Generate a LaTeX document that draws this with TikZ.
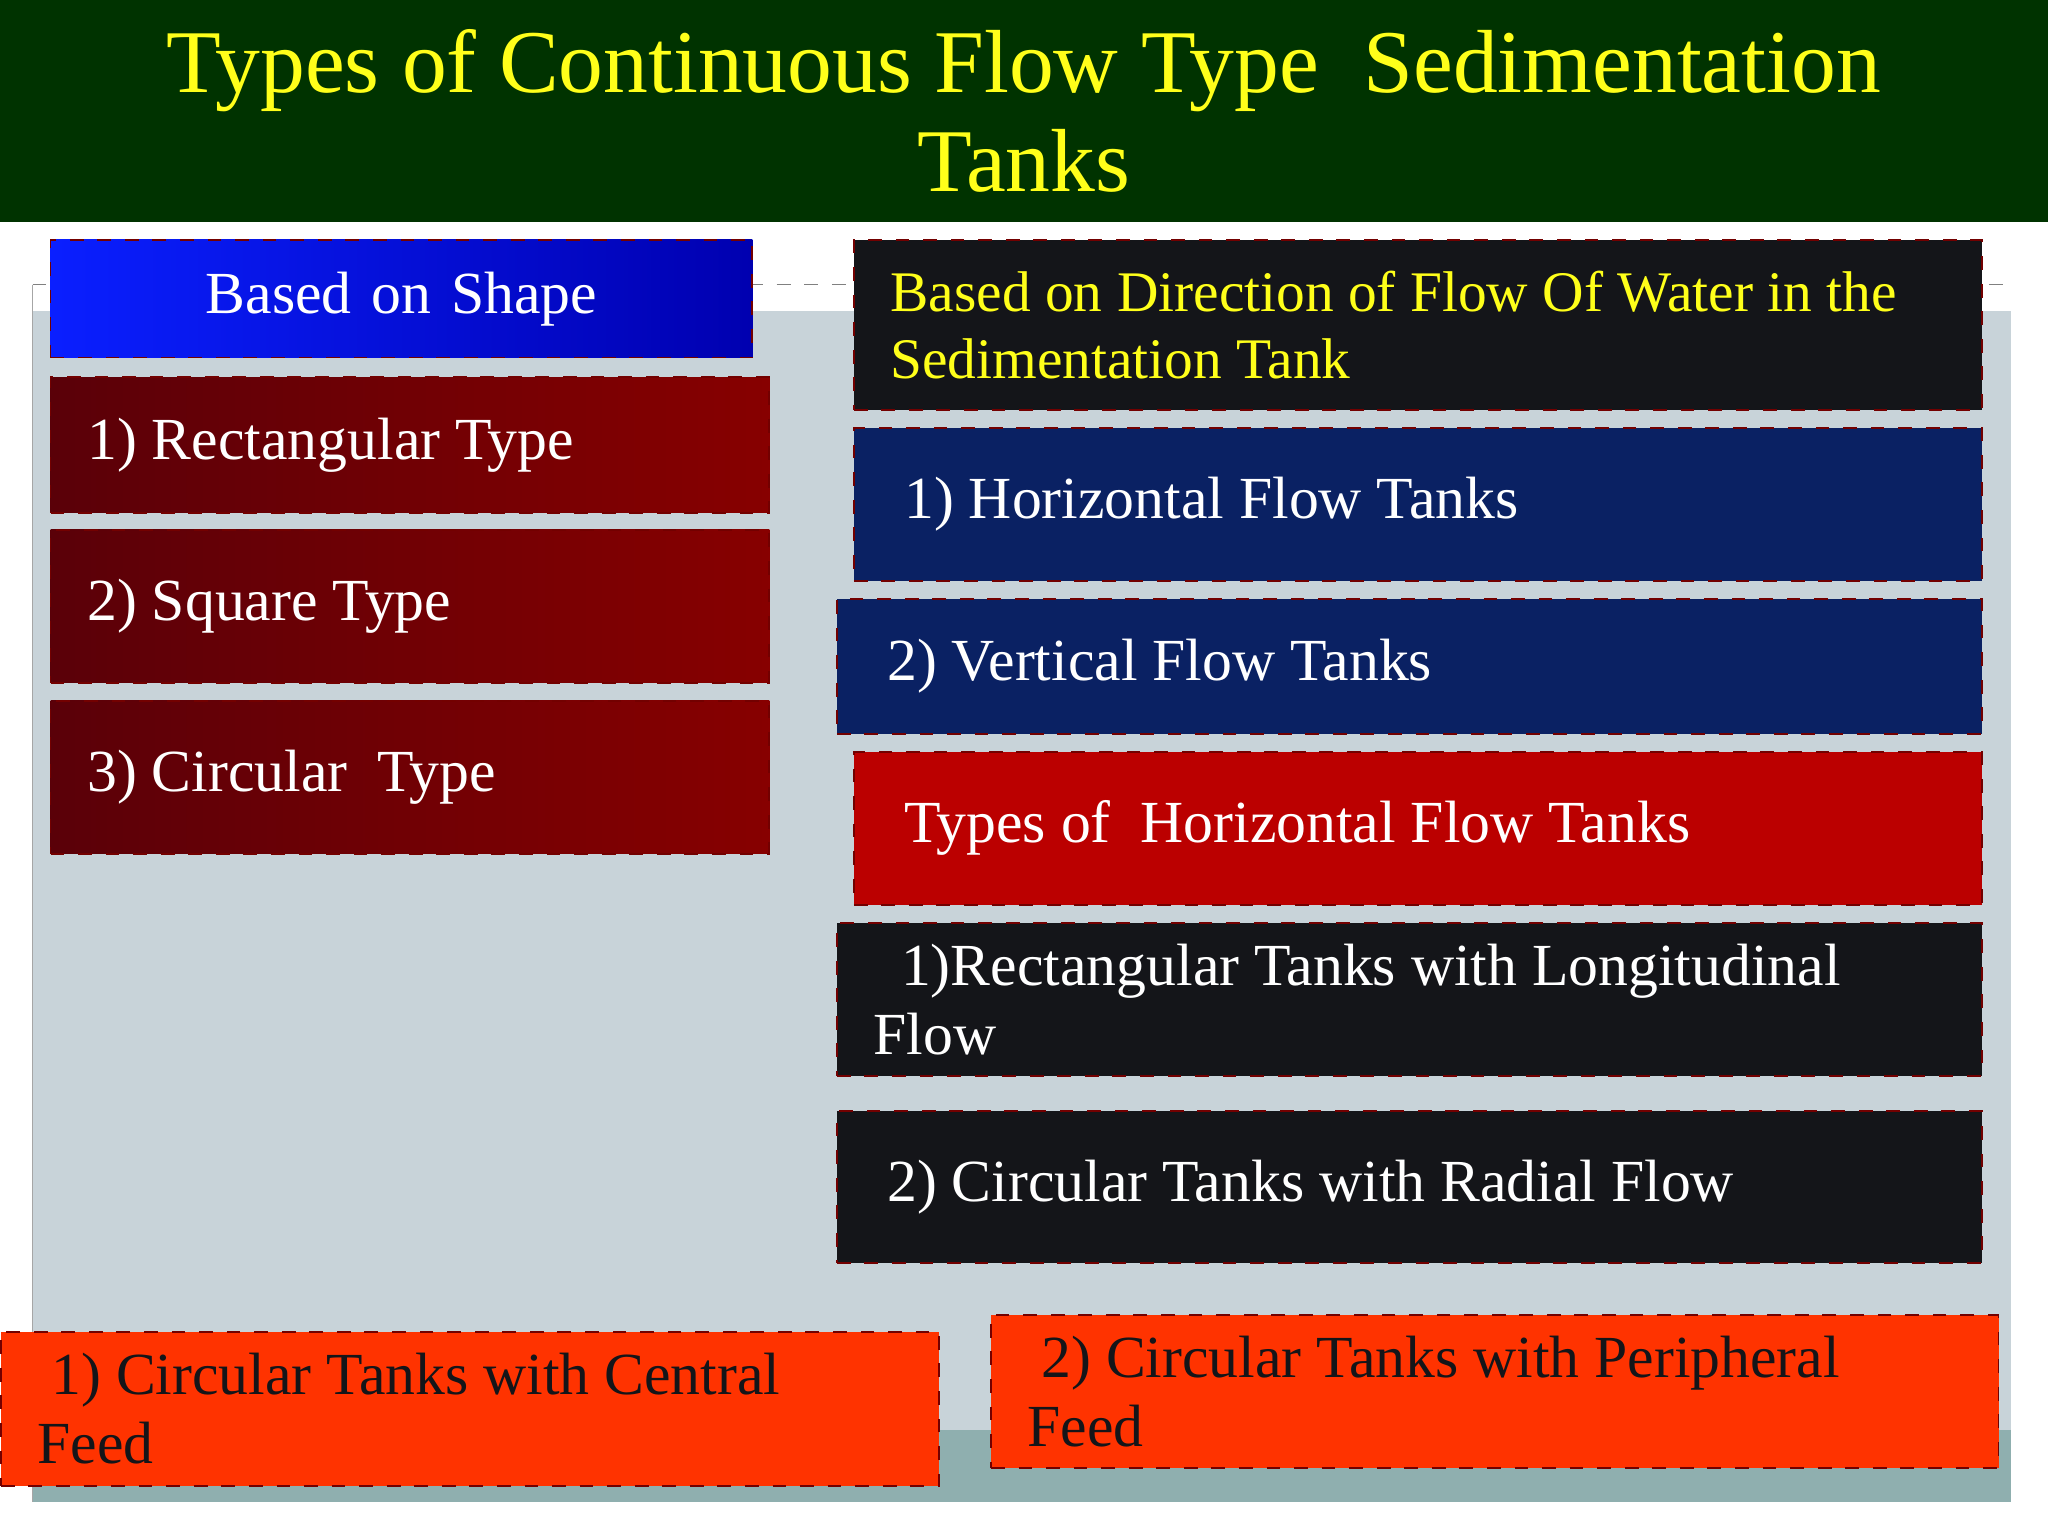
\documentclass[tikz,border=0pt]{standalone}
\usepackage{fontspec}
\setmainfont{Liberation Serif}
\usetikzlibrary{positioning}
\definecolor{titlegreen}{HTML}{003300}
\definecolor{titleyellow}{HTML}{FFFF1A}
\definecolor{panelgray}{HTML}{C8D3D9}
\definecolor{stripgray}{HTML}{8FAFAF}
\definecolor{shapeblue}{HTML}{0A1FFF}
\definecolor{shapeblued}{HTML}{0000B0}
\definecolor{redleft}{HTML}{5A0008}
\definecolor{redright}{HTML}{870000}
\definecolor{navy}{HTML}{0A2163}
\definecolor{boxblack}{HTML}{141519}
\definecolor{boxred}{HTML}{BB0000}
\definecolor{orangered}{HTML}{FF3300}
\tikzset{
  tbox/.style={draw=red!45!black, dashed, line width=0.4pt, anchor=north west,
    inner xsep=8pt, inner ysep=2pt, align=flush left, font=\fontsize{13}{15}\selectfont,
    text=white},
  redbox/.style={tbox, left color=redleft, right color=redright},
}
\begin{document}
\begin{tikzpicture}[x=0.01cm,y=-0.01cm]
  \useasboundingbox (0,0) rectangle (1568,1176);
  \fill[white] (0,0) rectangle (1568,1176);
  % background panels
  \fill[panelgray] (25,238) rectangle (1540,1150);
  \fill[stripgray] (25,1095) rectangle (1540,1150);
  \draw[gray, dashed, line width=0.3pt] (25,218) -- (1540,218);
  \draw[gray!70, line width=0.3pt] (25,218) -- (25,1150);
  % title
  \fill[titlegreen] (0,0) rectangle (1568,170);
  \node[text=titleyellow, align=center, font=\fontsize{19.5}{21.5}\selectfont] (title) at (784,85)
    {Types of Continuous Flow Type\ \ Sedimentation\\Tanks};
  % based on shape
  \node[tbox, left color=shapeblue, right color=shapeblued, align=center,
    text width=5.37cm-16pt, minimum height=0.90cm] (shape) at (38,183)
    {Based on Shape};
  \node[redbox, text width=5.5cm-16pt, minimum height=1.04cm] (rect) at (38,288) {1) Rectangular Type};
  \node[redbox, text width=5.5cm-16pt, minimum height=1.17cm] (square) at (38,405) {2) Square Type};
  \node[redbox, text width=5.5cm-16pt, minimum height=1.17cm] (circ) at (38,536) {3) Circular\ \ Type};
  % based on direction
  \node[tbox, fill=boxblack, text=titleyellow, text width=8.63cm-16pt, minimum height=1.30cm,
    font=\fontsize{12.5}{14.5}\selectfont] (dir) at (653,183)
    {Based on Direction of Flow Of Water in the\\Sedimentation Tank};
  \node[tbox, fill=navy, text width=8.63cm-16pt, minimum height=1.17cm] (horiz) at (653,327)
    {\hspace{3pt}1) Horizontal Flow Tanks};
  \node[tbox, fill=navy, text width=8.76cm-16pt, minimum height=1.03cm] (vert) at (640,458)
    {\hspace{3pt}2) Vertical Flow Tanks};
  \node[tbox, fill=boxred, text width=8.63cm-16pt, minimum height=1.17cm] (types) at (653,575)
    {\hspace{3pt}Types of\ \ Horizontal Flow Tanks};
  \node[tbox, fill=boxblack, text width=8.76cm-16pt, minimum height=1.17cm] (long) at (640,706)
    {\hspace{6pt}1)Rectangular Tanks with Longitudinal\\Flow};
  \node[tbox, fill=boxblack, text width=8.76cm-16pt, minimum height=1.16cm] (radial) at (640,850)
    {\hspace{3pt}2) Circular Tanks with Radial Flow};
  % bottom boxes
  \node[tbox, fill=orangered, text=boxblack, text width=7.18cm-16pt, minimum height=1.18cm] (central) at (0,1019)
    {\hspace{3pt}1) Circular Tanks with Central\\Feed};
  \node[tbox, fill=orangered, text=boxblack, text width=7.71cm-16pt, minimum height=1.17cm] (periph) at (758,1006)
    {\hspace{3pt}2) Circular Tanks with Peripheral\\Feed};
\end{tikzpicture}
\end{document}
